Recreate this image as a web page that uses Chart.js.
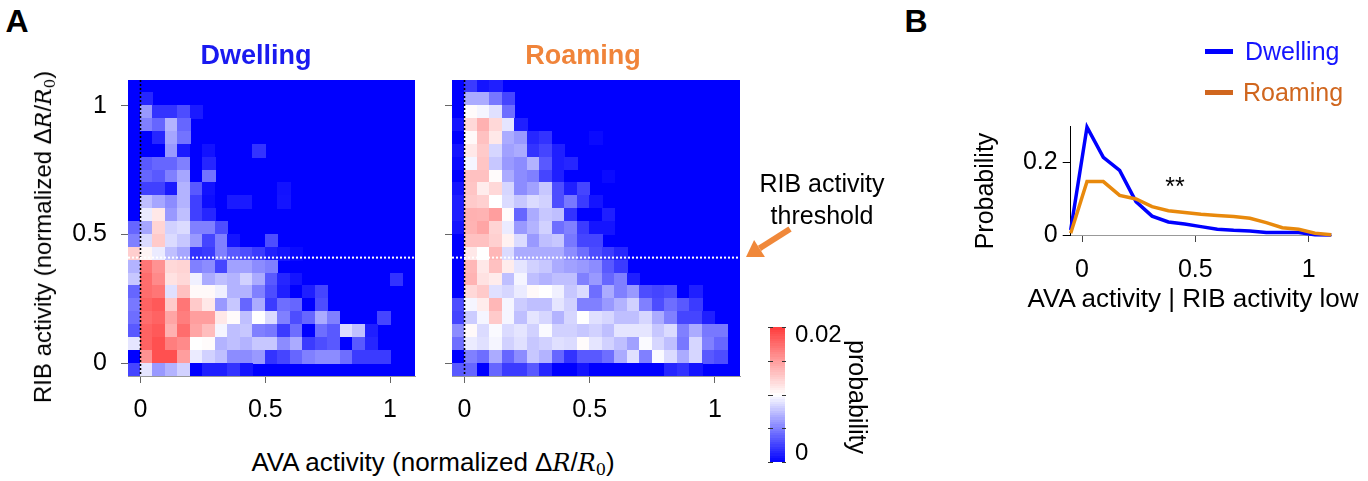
<!DOCTYPE html>
<html>
<head>
<meta charset="utf-8">
<title>AVA / RIB activity</title>
<script src="https://cdn.jsdelivr.net/npm/chart.js@4.4.1/dist/chart.umd.min.js"></script>
<style>
  html, body { margin: 0; padding: 0; background: #fff; }
  body { width: 1368px; height: 481px; position: relative; overflow: hidden;
         font-family: "Liberation Sans", Arial, sans-serif; color: #000; }
  canvas { position: absolute; }
  .txt { position: absolute; white-space: nowrap; line-height: 1; transform: translate(-50%, -50%); }
  .math { font-family: "DejaVu Serif", "Liberation Serif", serif; font-style: italic; font-size: 0.92em; }
  .sub { font-family: "DejaVu Serif", "Liberation Serif", serif; font-size: 0.62em; vertical-align: -0.3em; line-height: 0; }
  .key { position: absolute; height: 5px; width: 28px; }
</style>
</head>
<body>

<canvas id="heatDwell" width="440" height="400" style="left:0px;top:40px"></canvas>
<canvas id="heatRoam" width="340" height="400" style="left:420px;top:40px"></canvas>
<canvas id="colorBar" width="130" height="181" style="left:750px;top:300px"></canvas>
<canvas id="lowRib" width="408" height="220" style="left:960px;top:100px"></canvas>

<div class="txt" style="left:17px;top:21px;font-size:32px;font-weight:bold">A</div>
<div class="txt" style="left:916px;top:21px;font-size:32px;font-weight:bold">B</div>
<div class="txt" style="left:256px;top:55px;font-size:27px;font-weight:bold;color:#1a1af0">Dwelling</div>
<div class="txt" style="left:583px;top:55px;font-size:27px;font-weight:bold;color:#f0843a">Roaming</div>
<div class="txt" style="left:43px;top:237px;font-size:24px;transform:translate(-50%,-50%) rotate(-90deg)">RIB activity (normalized &Delta;<span class="math">R</span>/<span class="math">R</span><span class="sub">0</span>)</div>
<div class="txt" style="left:433px;top:462px;font-size:26px">AVA activity (normalized &Delta;<span class="math">R</span>/<span class="math">R</span><span class="sub">0</span>)</div>
<div class="txt" style="left:822px;top:199px;font-size:25px;line-height:32px;text-align:center">RIB activity<br>threshold</div>
<div class="txt" style="left:857px;top:397px;font-size:25px;transform:translate(-50%,-50%) rotate(90deg)">probability</div>

<svg style="position:absolute;left:0;top:0" width="1368" height="481">
  <line x1="790" y1="229" x2="759.5" y2="248.4" stroke="#f0883a" stroke-width="6"/>
  <polygon points="746,257 764.9,256.9 754.1,239.9" fill="#f0883a"/>
</svg>

<div class="key" style="left:1205px;top:48.5px;background:#0000ff"></div>
<div class="key" style="left:1205px;top:89.5px;background:#d0661e"></div>
<div class="txt" style="left:1245px;top:51px;font-size:25px;color:#1414ff;transform:translate(0,-50%)">Dwelling</div>
<div class="txt" style="left:1243px;top:92px;font-size:25px;color:#d0661e;transform:translate(0,-50%)">Roaming</div>
<div class="txt" style="left:984px;top:191px;font-size:25px;transform:translate(-50%,-50%) rotate(-90deg)">Probability</div>
<div class="txt" style="left:1193px;top:298px;font-size:26px">AVA activity | RIB activity low</div>
<div class="txt" style="left:1175px;top:186px;font-size:25px">**</div>

<script>
// 2D histograms, probability x 1e-3, one row per RIB bin from 1.05-1.1 (top) down to -0.05-0 (bottom),
// one column per AVA bin from -0.05 upward; columns left out at the end are empty
const dwellingGrid = [
    [0],
    [0, 1.5],
    [0, 6, 2, 2, 3, 1],
    [0, 5, 4, 7, 4],
    [0, 0, 1.5, 6.5, 4.5],
    [0, 0, 0, 6, 1, 0, 0.7, 0, 0, 0, 2],
    [0, 3.5, 4, 4, 5, 0, 1.5],
    [0, 4, 3.5, 5, 6.5, 0, 4.5],
    [0, 2.5, 2.5, 1, 7, 3.5, 0.7, 0, 0, 0, 0, 0, 0.7],
    [0, 7.5, 6.5, 5.5, 7, 2.5, 0.5, 0, 1, 1, 0, 0, 0.8],
    [0, 9.2, 11.2, 6, 7.5, 2.5, 1.5],
    [4, 6.5, 12.2, 8.2, 8.6, 5, 5, 3],
    [5, 8.6, 12.7, 8.6, 7.8, 6, 2.7, 5, 0.8, 0, 0, 3],
    [12.5, 10.5, 9.2, 7.5, 6.5, 2, 2.3, 5, 3.5, 3, 2.3, 1.2, 0.8, 0.4],
    [7, 17, 15.6, 12, 12.2, 5, 5.5, 2.7, 6.3, 6.3, 5.5, 5],
    [7.8, 17.5, 16, 11.5, 12, 9.4, 6.7, 7.5, 7, 8.2, 6.7, 3.5, 1.5, 0.8, 0, 0, 0, 0, 0, 0, 0, 2],
    [4, 17.5, 17, 8.8, 13.2, 10.3, 10.3, 9.4, 7, 7, 5, 3, 1.2, 0, 1.2, 2.7],
    [4.7, 18, 18.5, 12.7, 17, 12.7, 11.2, 6, 7.8, 4, 6.7, 2.3, 4.3, 4, 0, 3],
    [4.3, 17.5, 18, 14.6, 16.6, 15, 15, 11.2, 10.2, 7.5, 10, 8.6, 5, 3, 4, 6.7, 5, 0, 0, 0, 2.7],
    [3.5, 18, 18.5, 14, 17.5, 14.6, 13.4, 9.6, 7.5, 7.8, 5, 4.7, 2.3, 4.3, 0, 4.3, 3.5, 8.6, 7.5, 1.2],
    [9, 18, 19, 16.6, 16, 10, 10.2, 7, 7.5, 7, 7.8, 7.8, 5.5, 6.7, 2.3, 3, 3.5, 0, 3.5, 1.5],
    [0, 15.6, 19, 19, 15, 9.2, 8.2, 7.5, 5.5, 5.5, 6, 2, 2.7, 4, 5, 5.5, 5.5, 4.3, 2.3, 2.3, 2.3],
    [2.7, 9, 6, 7, 8.2, 0, 1.2, 1.2, 2, 0.8]
];

const roamingGrid = [
    [0, 2.3, 0.8, 1.2],
    [0, 6.7, 6.7, 4.7, 2.7],
    [0, 10.2, 9.6, 8.8, 4.3],
    [0.8, 12, 14, 12, 9, 1.2],
    [0, 10.3, 13.2, 11.2, 6.7, 6, 1.5, 2, 0, 0, 0, 0.4],
    [0.8, 11.2, 12.7, 8.4, 6.3, 6.7, 2, 2.7, 1.2],
    [0.4, 9.6, 13, 7.8, 6, 5.5, 7, 3.5, 1.2, 1.5],
    [0, 13.2, 13.2, 10.2, 6.7, 5.5, 5, 2.7, 1.2, 0, 0, 0, 0.4],
    [0.8, 13, 11, 12, 8.4, 5.5, 6.3, 7.8, 3, 1.2, 2.7],
    [1.2, 12.7, 12.4, 10, 8.6, 7.8, 8.6, 8.2, 3, 4.7, 2.3, 0.8],
    [1.2, 14, 13.9, 15, 10.2, 4, 6.7, 7.8, 7.5, 2, 0, 0, 1.2],
    [0.8, 13.9, 14.6, 12.2, 9.2, 6, 7, 8.2, 4.3, 5, 2.3, 0.8, 0.8],
    [0, 13.2, 13.2, 12.4, 10.7, 8.6, 6, 7.5, 7.8, 4.7, 2.7, 2.7],
    [0, 11.2, 10, 13.7, 8.6, 6.7, 6.7, 6.7, 6.7, 5.5, 4.3, 3, 2.3, 1.5],
    [0, 13.7, 11.2, 13.2, 11, 9, 8.2, 7.8, 6.7, 6.3, 6, 5.5, 3.5, 2.3],
    [0, 13.9, 11.5, 11, 7.5, 9.6, 7.5, 7, 7.5, 7.5, 5, 6, 4, 5, 1.2],
    [0, 12, 12.7, 8.8, 8.4, 9.2, 10.3, 10, 9.4, 7.8, 8.6, 4.3, 6.7, 5, 6, 3, 2.7, 3, 0, 1.2],
    [3, 9.6, 11, 13.7, 9.6, 8, 7.5, 7.5, 9, 8.2, 5, 5, 6, 7, 8.2, 5, 3, 4.3, 3.5, 2.3],
    [2.7, 8, 9.6, 12.7, 9.6, 7.5, 9, 8.4, 7, 8.4, 10, 8.8, 8.4, 7.5, 7.5, 8.4, 6.7, 5, 2.7, 2.7, 1.2],
    [5.5, 10.3, 8.6, 9.8, 8.6, 9, 8.2, 9.8, 8.2, 8.2, 7.8, 8.2, 7.5, 9, 9, 9, 7.8, 8.6, 5, 6.7, 4.7, 4.7],
    [4.3, 9.2, 8.8, 9.6, 8.2, 8.8, 7.8, 8.2, 8.8, 8.6, 10.2, 9, 8.2, 7.5, 6.3, 9.8, 8.4, 7.5, 4.7, 8.4, 5, 4],
    [0, 5, 4.3, 6.7, 4, 5.5, 7.8, 7, 4, 2, 3.5, 3.5, 4.3, 6.7, 8.8, 5, 9.8, 8.6, 6.7, 8.4, 3.5, 3],
    [3.5, 4, 0, 4, 2.3, 2.3, 3.5, 1.5, 0, 0, 0.8, 0, 0, 0, 0, 0, 0, 1.5, 2, 0.8]
];

// panel B: AVA distribution while RIB is below threshold
const lowRibAva = [-0.05, 0.022, 0.094, 0.166, 0.238, 0.309, 0.381, 0.453, 0.525, 0.597, 0.669, 0.741, 0.813, 0.884, 0.956, 1.028, 1.1];
const lowRibDwelling = [0.014, 0.297, 0.214, 0.178, 0.092, 0.052, 0.036, 0.030, 0.023, 0.016, 0.013, 0.011, 0.007, 0.007, 0.007, 0.001, 0];
const lowRibRoaming = [0.005, 0.147, 0.147, 0.109, 0.099, 0.078, 0.067, 0.062, 0.057, 0.054, 0.051, 0.046, 0.034, 0.020, 0.016, 0.005, 0.001];

const activityTicks = [0, 0.5, 1];
const probTicksB = [0, 0.2];
const colorTicks = [0, 0.005, 0.01, 0.015, 0.02];
const colorLabels = [0, 0.02];

const binStart = -0.05, binEnd = 1.1, binSize = 0.05;
const ribThreshold = 0.41;
const probMax = 0.02;

const tickFont = { family: "'Liberation Sans', Arial, sans-serif", size: 25 };

// blue -> white -> red
const cellColor = (p) => {
    const t = Math.min(Math.max(p / probMax, 0), 1);
    if (t <= 0.5) {
        const s = Math.round(255 * t / 0.5);
        return `rgb(${s},${s},255)`;
    }
    const g = Math.round(255 - 195 * (t - 0.5) / 0.5);
    return `rgb(255,${g},${g})`;
};

const heatLayer = (grid) => ({
    id: 'heatLayer',
    beforeDatasetsDraw(chart) {
        const { ctx, chartArea: a, scales: { x, y } } = chart;
        ctx.save();
        ctx.fillStyle = cellColor(0);
        ctx.fillRect(a.left, a.top, a.width, a.height);
        grid.forEach((row, i) => {
            const yHi = binEnd - i * binSize;
            const top = Math.floor(y.getPixelForValue(yHi));
            const bottom = Math.ceil(y.getPixelForValue(yHi - binSize));
            row.forEach((v, j) => {
                const left = Math.floor(x.getPixelForValue(binStart + j * binSize));
                const right = Math.ceil(x.getPixelForValue(binStart + (j + 1) * binSize));
                ctx.fillStyle = cellColor(v / 1000);
                ctx.fillRect(left, top, right - left, bottom - top);
            });
        });
        ctx.restore();
    },
    afterDatasetsDraw(chart) {
        const { ctx, chartArea: a, scales: { x, y } } = chart;
        ctx.save();
        // AVA = 0
        ctx.setLineDash([2, 2]);
        ctx.lineWidth = 1.6;
        ctx.strokeStyle = '#000';
        const x0 = x.getPixelForValue(0);
        ctx.beginPath();
        ctx.moveTo(x0, a.top);
        ctx.lineTo(x0, a.bottom);
        ctx.stroke();
        // RIB threshold
        ctx.strokeStyle = '#fff';
        ctx.lineWidth = 2;
        const yt = y.getPixelForValue(ribThreshold);
        ctx.beginPath();
        ctx.moveTo(a.left, yt);
        ctx.lineTo(a.right, yt);
        ctx.stroke();
        ctx.restore();
    }
});

const heatChart = (id, grid, padding, yWidth, yLabels) => new Chart(document.getElementById(id), {
    type: 'scatter',
    data: { datasets: [] },
    options: {
        responsive: false,
        animation: false,
        layout: { padding },
        plugins: { legend: { display: false }, tooltip: { enabled: false } },
        scales: {
            x: {
                type: 'linear', min: binStart, max: binEnd,
                afterBuildTicks: s => { s.ticks = activityTicks.map(v => ({ value: v })); },
                afterFit: s => { s.height = 50; },
                ticks: { callback: v => String(v), font: tickFont, color: '#000', padding: 12, maxRotation: 0, autoSkip: false },
                grid: { drawOnChartArea: false, tickLength: 7, color: '#666' },
                border: { color: '#999' }
            },
            y: {
                type: 'linear', min: binStart, max: binEnd,
                afterBuildTicks: s => { s.ticks = activityTicks.map(v => ({ value: v })); },
                afterFit: s => { s.width = yWidth; },
                ticks: { callback: v => yLabels ? String(v) : '', font: tickFont, color: '#000', padding: 14, autoSkip: false },
                grid: { drawOnChartArea: false, tickLength: 7, color: '#666' },
                border: { color: '#999' }
            }
        }
    },
    plugins: [heatLayer(grid)]
});

heatChart('heatDwell', dwellingGrid, { left: 63, top: 40, right: 25, bottom: 14 }, 65, true);
heatChart('heatRoam', roamingGrid, { left: 12, top: 40, right: 20, bottom: 14 }, 20, false);

// colour scale
const colorBarLayer = {
    id: 'colorBarLayer',
    beforeDatasetsDraw(chart) {
        const { ctx, chartArea: a, scales: { y } } = chart;
        const steps = 60;
        ctx.save();
        for (let k = 0; k < steps; k++) {
            const lo = probMax * k / steps, hi = probMax * (k + 1) / steps;
            const top = Math.floor(y.getPixelForValue(hi));
            const bottom = Math.ceil(y.getPixelForValue(lo));
            ctx.fillStyle = cellColor((lo + hi) / 2);
            ctx.fillRect(a.left, top, a.width, bottom - top);
        }
        ctx.strokeStyle = '#333';
        ctx.lineWidth = 1;
        colorTicks.forEach(v => {
            const py = Math.round(y.getPixelForValue(v)) + 0.5;
            ctx.beginPath();
            ctx.moveTo(a.left - 2, py); ctx.lineTo(a.left + 3, py);
            ctx.moveTo(a.right - 3, py); ctx.lineTo(a.right + 1, py);
            ctx.stroke();
        });
        ctx.fillStyle = '#000';
        ctx.font = "24px 'Liberation Sans', Arial, sans-serif";
        ctx.textAlign = 'left';
        ctx.textBaseline = 'middle';
        colorLabels.forEach(v => {
            const shift = v === probMax ? 8 : -9;
            ctx.fillText(String(v), a.right + 10, y.getPixelForValue(v) + shift);
        });
        ctx.restore();
    }
};

new Chart(document.getElementById('colorBar'), {
    type: 'scatter',
    data: { datasets: [] },
    options: {
        responsive: false,
        animation: false,
        layout: { padding: { left: 20, right: 95, top: 27, bottom: 19 } },
        plugins: { legend: { display: false }, tooltip: { enabled: false } },
        scales: {
            x: { display: false, min: 0, max: 1 },
            y: { display: false, min: 0, max: probMax }
        }
    },
    plugins: [colorBarLayer]
});

new Chart(document.getElementById('lowRib'), {
    type: 'line',
    data: {
        datasets: [
            {
                label: 'Roaming',
                data: lowRibAva.map((x, i) => ({ x, y: lowRibRoaming[i] })),
                borderColor: '#e8890c', borderWidth: 3.5, pointRadius: 0, tension: 0, clip: false
            },
            {
                label: 'Dwelling',
                data: lowRibAva.map((x, i) => ({ x, y: lowRibDwelling[i] })),
                borderColor: '#0000ff', borderWidth: 3.5, pointRadius: 0, tension: 0, clip: false
            }
        ]
    },
    options: {
        responsive: false,
        animation: false,
        layout: { padding: { left: 60.7, right: 36.7, top: 26, bottom: 35 } },
        plugins: { legend: { display: false }, tooltip: { enabled: false } },
        scales: {
            x: {
                type: 'linear', min: binStart, max: binEnd,
                afterBuildTicks: s => { s.ticks = activityTicks.map(v => ({ value: v })); },
                afterFit: s => { s.height = 50; },
                ticks: { callback: v => String(v), font: tickFont, color: '#000', padding: 13, maxRotation: 0, autoSkip: false },
                grid: { drawOnChartArea: false, tickLength: 7, color: '#444' },
                border: { color: '#999' }
            },
            y: {
                type: 'linear', min: 0, max: 0.3,
                afterBuildTicks: s => { s.ticks = probTicksB.map(v => ({ value: v })); },
                afterFit: s => { s.width = 50; },
                ticks: { callback: v => String(v), font: tickFont, color: '#000', padding: 5, autoSkip: false },
                grid: { drawOnChartArea: false, tickLength: 8, color: '#000' },
                border: { color: '#000' }
            }
        }
    }
});
</script>
</body>
</html>
